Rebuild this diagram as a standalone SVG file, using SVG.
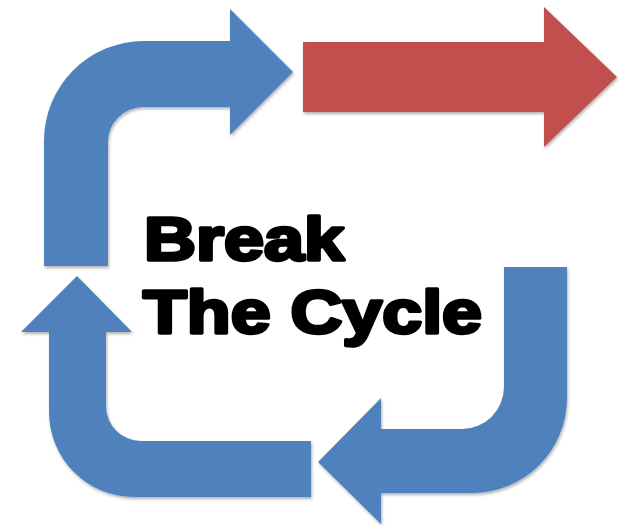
<svg xmlns="http://www.w3.org/2000/svg" width="633" height="526" viewBox="0 0 633 526">
  <style>
    .blue { fill: #4F81BD; filter: url(#shadow); }
    .red { fill: #C0504D; filter: url(#shadow); }
    .title { font-family: "Liberation Sans", Arial, sans-serif; font-weight: bold; font-size: 61px; fill: #000; stroke: #000; stroke-width: 3.4; stroke-linejoin: round; }
  </style>
  <defs>
    <filter id="shadow" x="-10%" y="-10%" width="130%" height="130%">
      <feDropShadow dx="1" dy="2" stdDeviation="1.5" flood-color="#000" flood-opacity="0.3"/>
    </filter>
  </defs>
  <rect width="633" height="526" fill="#fff"/>
  <g id="connectors">
    <g id="arrow-top-left">
      <path class="blue" d="M44,266 L44,141 A100,100 0 0 1 144,41 L230,41 L230,9 L293,72 L230,135 L230,107 L143,107 A35,35 0 0 0 108,142 L108,266 Z"/>
    </g>
    <g id="arrow-red">
      <path class="red" d="M303,42 L544,42 L544,7 L617,77 L544,147 L544,112 L303,112 Z"/>
    </g>
    <g id="arrow-bottom-right">
      <path class="blue" d="M504,267 L567,267 L567,398 A95,95 0 0 1 472,493 L381,493 L381,524 L318,462 L381,398 L381,429 L462,429 A42,42 0 0 0 504,387 Z"/>
    </g>
    <g id="arrow-bottom-left">
      <path class="blue" d="M77,276 L132,332 L106,332 L106,406 A35,35 0 0 0 141,441 L311,441 L311,497 L134,497 A85,85 0 0 1 49,412 L49,332 L21,332 Z"/>
    </g>
  </g>
  <g id="label">
    <text class="title" x="144" y="260" textLength="200" lengthAdjust="spacingAndGlyphs">Break</text>
    <text class="title" x="143" y="333" textLength="339" lengthAdjust="spacingAndGlyphs">The Cycle</text>
  </g>
</svg>
